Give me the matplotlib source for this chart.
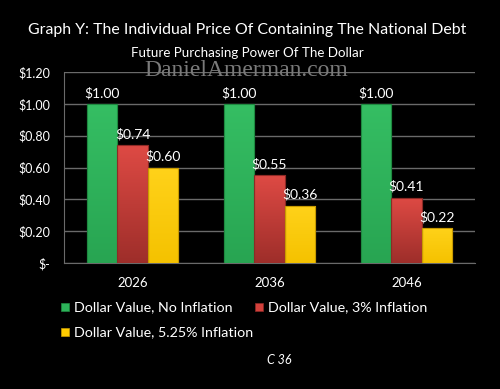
import matplotlib
matplotlib.use("Agg")
import matplotlib.pyplot as plt
from matplotlib.patches import Rectangle
from matplotlib.colors import LinearSegmentedColormap
import numpy as np

plt.rcParams['font.family'] = ['Lato', 'DejaVu Sans']

years = ["2026", "2036", "2046"]
series_names = ["Dollar Value, No Inflation", "Dollar Value, 3% Inflation", "Dollar Value, 5.25% Inflation"]
no_inflation = [1.00, 1.00, 1.00]
inflation_3 = [0.74, 0.55, 0.41]
inflation_525 = [0.60, 0.36, 0.22]
colors = ["#2DB35A", "#D2403B", "#FFCC00"]
top_colors = ["#35BE63", "#DE4A44", "#FFD21A"]
bottom_colors = ["#28A552", "#9E2E2A", "#F5C200"]
edge_colors = ["#1E8A40", "#8E2A26", "#C89A00"]
yticks = [0, 0.2, 0.4, 0.6, 0.8, 1.0, 1.2]
ytick_labels = ["$-", "$0.20", "$0.40", "$0.60", "$0.80", "$1.00", "$1.20"]

W, H = 500, 389
fig = plt.figure(figsize=(W/100, H/100), dpi=100, facecolor="black")
ax = fig.add_axes([64/W, 1-263/H, (475-64)/W, (263-72)/H], facecolor="black")

x = np.arange(len(years))
bw = 0.22
all_series = [no_inflation, inflation_3, inflation_525]
for i, vals in enumerate(all_series):
    pos = x + (i-1)*bw
    bars = ax.bar(pos, vals, width=bw, color=colors[i], edgecolor=edge_colors[i], linewidth=0.8, zorder=3)
    cmap = LinearSegmentedColormap.from_list(f"g{i}", [bottom_colors[i], top_colors[i]])
    for b in bars:
        bx, by = b.get_x(), b.get_y()
        bwid, bh = b.get_width(), b.get_height()
        grad = np.linspace(0, 1, 100).reshape(-1, 1)
        im = ax.imshow(grad, cmap=cmap, origin="lower", aspect="auto",
                       extent=[bx, bx+bwid, by, by+bh], zorder=3.1)
        im.set_clip_path(b)
        ax.add_patch(Rectangle((bx, by), bwid, bh, facecolor="none",
                               edgecolor=edge_colors[i], linewidth=0.8, zorder=3.2))
    for p, v in zip(pos, vals):
        ax.text(p, v+0.03, f"${v:.2f}", ha="center", va="bottom", color="white", fontsize=10, zorder=4)

ax.set_xlim(-0.5, 2.5)
ax.set_ylim(0, 1.2)
ax.set_yticks(yticks)
ax.set_yticklabels(ytick_labels)
ax.set_xticks(x)
ax.set_xticklabels(years)
ax.tick_params(axis="y", colors="white", length=0, pad=10, labelsize=9)
ax.tick_params(axis="x", colors="white", length=0, pad=10, labelsize=9.5)
ax.grid(axis="y", color="#6a6a6a", linewidth=1, zorder=0)
for s in ["top", "right"]:
    ax.spines[s].set_visible(False)
ax.spines["left"].set_color("#6a6a6a")
ax.spines["bottom"].set_color("#6a6a6a")

fig.text(247/W, 1-30/H, "Graph Y: The Individual Price Of Containing The National Debt",
         ha="center", va="center", color="white", fontsize=11.4)
fig.text(247/W, 1-53/H, "Future Purchasing Power Of The Dollar",
         ha="center", va="center", color="white", fontsize=9.6)
fig.text(246/W, 1-70/H, "DanielAmerman.com", ha="center", va="center",
         color="#7a7a7a", fontsize=17, family="Liberation Serif", zorder=10)

# legend
leg_pos = [(61, 307), (255, 307), (61, 332)]
for i, (lx, ly) in enumerate(leg_pos):
    fig.patches.append(Rectangle((lx/W, 1-(ly+4)/H), 8/W, 8/H, transform=fig.transFigure,
                                 facecolor=colors[i], edgecolor=edge_colors[i], linewidth=0.5))
    fig.text((lx+13)/W, 1-ly/H, series_names[i], ha="left", va="center", color="white", fontsize=10.3)

fig.text(279/W, 1-360/H, "C 36", ha="center", va="center", color="white", fontsize=9, style="italic")

fig.savefig("out.png", dpi=100, facecolor="black")
